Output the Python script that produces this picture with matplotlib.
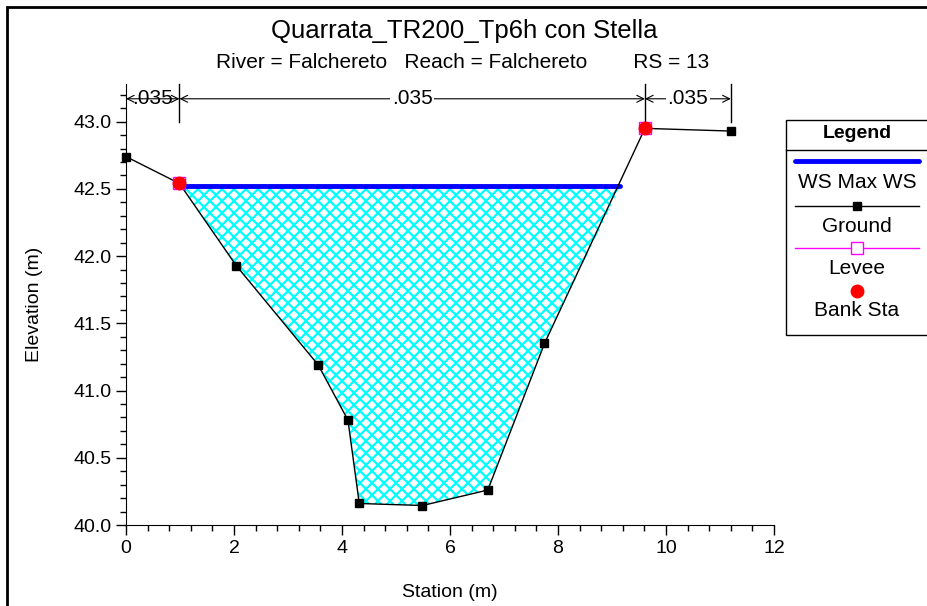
import numpy as np
import matplotlib
matplotlib.use("Agg")
import matplotlib.pyplot as plt
from matplotlib.lines import Line2D
from matplotlib.patches import Rectangle

plt.rcParams['font.family'] = ['Liberation Sans', 'DejaVu Sans']

# ground profile (station m, elevation m)
ground_sta = [0.0, 0.99, 2.04, 3.56, 4.11, 4.32, 5.49, 6.70, 7.75, 9.61, 11.2]
ground_elev = [42.74, 42.54, 41.93, 41.19, 40.78, 40.16, 40.145, 40.26, 41.35, 42.95, 42.93]

# bank stations / levees
bank_sta = [0.99, 9.61]
bank_elev = [42.54, 42.95]
levee_sta = [0.99, 9.61]
levee_elev = [42.54, 42.95]

# water surface
ws_elev = 42.52
ws_sta = [1.01, 9.15]

# manning n
n_breaks = [0.0, 0.99, 9.61, 11.2]
n_values = ['.035', '.035', '.035']

W, H = 928, 606
fig = plt.figure(figsize=(W / 100, H / 100), dpi=100)
ax_l, ax_r, ax_b, ax_t = 126, 774, 525, 84
ax = fig.add_axes([ax_l / W, 1 - ax_b / H, (ax_r - ax_l) / W, (ax_b - ax_t) / H])

# water area, cross hatched
inner = [(s, e) for s, e in zip(ground_sta, ground_elev) if ws_sta[0] < s < ws_sta[1]]
poly_x = [ws_sta[0]] + [p[0] for p in inner] + [ws_sta[1]]
poly_y = [ws_elev] + [p[1] for p in inner] + [ws_elev]
poly = ax.fill(poly_x, poly_y, facecolor='white', edgecolor='none', linewidth=0, zorder=1)[0]

aw, ah = ax_r - ax_l, ax_b - ax_t
step = 12.0 / aw
k = aw / ah
for c in np.arange(-2, 2, step):
    for sgn in (1, -1):
        ln = Line2D([c, c + 1.5 * sgn], [0, 1.5 * k], transform=ax.transAxes,
                    color='#00ffff', lw=1.6, zorder=1.5)
        ax.add_line(ln)
        ln.set_clip_path(poly)

ax.plot(ws_sta, [ws_elev, ws_elev], color='#0000ff', lw=3.5, zorder=3, solid_capstyle='round')
ax.plot(ground_sta, ground_elev, color='black', lw=1, marker='s', ms=5.5, zorder=4, clip_on=False)
ax.plot(levee_sta, levee_elev, ls='none', marker='s', ms=9, mfc='none', mec='#ff00ff', mew=1, zorder=5)
ax.plot(bank_sta, bank_elev, ls='none', marker='o', ms=9, color='#ff0000', zorder=6)

# n value markers
ytop = 43.28
yarr = 43.17
for s in n_breaks[1:]:
    ax.plot([s, s], [43.0, ytop], color='black', lw=1, clip_on=False)
for i, n in enumerate(n_values):
    a, b = n_breaks[i], n_breaks[i + 1]
    ax.annotate('', xy=(a, yarr), xytext=(b, yarr),
                arrowprops=dict(arrowstyle='<->,head_length=0.5,head_width=0.25', lw=0.8,
                                color='black', shrinkA=0, shrinkB=0))
    ax.text((a + b) / 2, yarr, n, ha='center', va='center', fontsize=15,
            bbox=dict(facecolor='white', edgecolor='none', pad=1) if i > 0 else None)

ax.set_xlim(0, 12)
ax.set_ylim(40, ytop)
ax.set_xticks([0, 2, 4, 6, 8, 10, 12])
ax.set_xticks(np.arange(0, 12.01, 0.4), minor=True)
ax.set_yticks([40.0, 40.5, 41.0, 41.5, 42.0, 42.5, 43.0])
ax.set_yticklabels(['40.0', '40.5', '41.0', '41.5', '42.0', '42.5', '43.0'])
ax.set_yticks(np.arange(40, 43.29, 0.1), minor=True)
ax.tick_params(labelsize=14, length=7, width=1)
ax.tick_params(which='minor', length=4, width=1)
ax.spines['top'].set_visible(False)
ax.spines['right'].set_visible(False)
ax.set_xlabel('Station (m)', fontsize=14, labelpad=20)
ax.set_ylabel('Elevation (m)', fontsize=14, labelpad=22)

fig.text(0.5, 1 - 31 / H, 'Quarrata_TR200_Tp6h con Stella', ha='center', va='center', fontsize=18.5)
fig.text(463 / W, 1 - 62 / H, 'River = Falchereto   Reach = Falchereto        RS = 13',
         ha='center', va='center', fontsize=15)

# legend
def fx(p): return p / W
def fy(p): return 1 - p / H
fig.add_artist(Rectangle((fx(786), fy(335)), fx(200), (335 - 120) / H, transform=fig.transFigure,
                         facecolor='white', edgecolor='black', lw=1))
fig.add_artist(Line2D([fx(786), fx(930)], [fy(150), fy(150)], transform=fig.transFigure, color='black', lw=1))
lx = 857
fig.text(fx(lx), fy(134), 'Legend', ha='center', va='center', fontsize=14, fontweight='bold')
fig.add_artist(Line2D([fx(795), fx(919)], [fy(161), fy(161)], transform=fig.transFigure,
                      color='#0000ff', lw=3.5, solid_capstyle='round'))
fig.text(fx(lx), fy(182), 'WS Max WS', ha='center', va='center', fontsize=15)
fig.add_artist(Line2D([fx(795), fx(919)], [fy(206), fy(206)], transform=fig.transFigure, color='black', lw=1))
fig.add_artist(Line2D([fx(857)], [fy(206)], transform=fig.transFigure, marker='s', ms=5.5, color='black'))
fig.text(fx(lx), fy(226), 'Ground', ha='center', va='center', fontsize=15)
fig.add_artist(Line2D([fx(795), fx(919)], [fy(248), fy(248)], transform=fig.transFigure, color='#ff00ff', lw=1))
fig.add_artist(Line2D([fx(857)], [fy(248)], transform=fig.transFigure, marker='s', ms=9,
                      mfc='white', mec='#ff00ff', mew=1))
fig.text(fx(lx), fy(268), 'Levee', ha='center', va='center', fontsize=15)
fig.add_artist(Line2D([fx(857)], [fy(291)], transform=fig.transFigure, marker='o', ms=9, color='#ff0000', ls='none'))
fig.text(fx(lx), fy(310), 'Bank Sta', ha='center', va='center', fontsize=15)

# outer frame
fig.add_artist(Rectangle((fx(7), -0.01), 1.0, fy(7) + 0.01, transform=fig.transFigure,
                         facecolor='none', edgecolor='black', lw=2))

fig.savefig('out.png', dpi=100)
